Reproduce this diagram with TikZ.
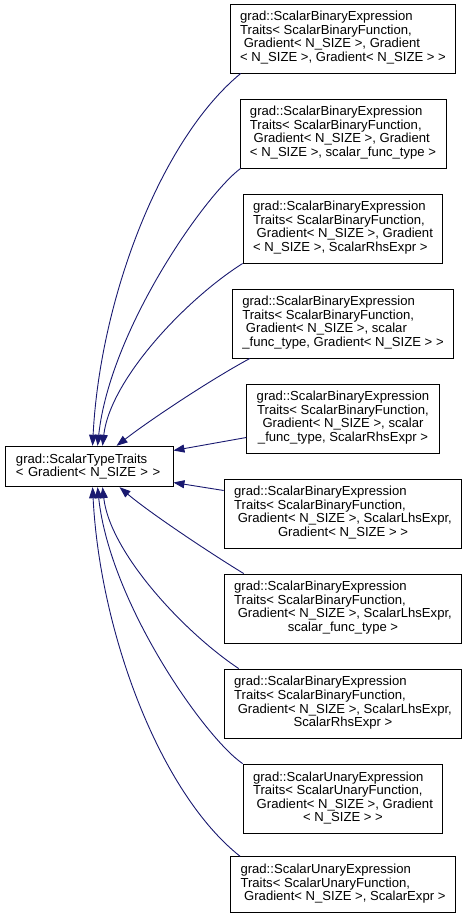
\documentclass[tikz,border=0pt]{standalone}
\usepackage{fontspec}
\setmainfont{Liberation Sans}
\usetikzlibrary{arrows.meta}
\definecolor{edgeblue}{HTML}{191970}
\begin{document}
\begin{tikzpicture}[x=1pt,y=-1pt,
  cls/.style={draw=black, line width=0.9pt, fill=white, inner xsep=10pt, inner ysep=7.5pt,
    font=\fontsize{13.1pt}{13.4pt}\selectfont, anchor=center},
  basecls/.style={cls, text width=146pt, align=left, inner xsep=11pt},
  inh/.style={draw=edgeblue, line width=0.9pt, -{Triangle[length=11pt,width=8pt]}},
]
\useasboundingbox (0,0) rectangle (469,917);

\node[basecls] (base) at (89,466.5) {grad::ScalarTypeTraits\\< Gradient< N\_SIZE > >};

\node[cls] (b1) at (343,38.5) {\begin{tabular}{@{}l@{}}grad::ScalarBinaryExpression\\Traits< ScalarBinaryFunction,\\\ Gradient< N\_SIZE >, Gradient\\< N\_SIZE >, Gradient< N\_SIZE > >\end{tabular}};
\node[cls] (b2) at (343,133.5) {\begin{tabular}{@{}l@{}}grad::ScalarBinaryExpression\\Traits< ScalarBinaryFunction,\\\ Gradient< N\_SIZE >, Gradient\\< N\_SIZE >, scalar\_func\_type >\end{tabular}};
\node[cls] (b3) at (343,228.5) {\begin{tabular}{@{}l@{}}grad::ScalarBinaryExpression\\Traits< ScalarBinaryFunction,\\\ Gradient< N\_SIZE >, Gradient\\< N\_SIZE >, ScalarRhsExpr >\end{tabular}};
\node[cls] (b4) at (343,323.5) {\begin{tabular}{@{}l@{}}grad::ScalarBinaryExpression\\Traits< ScalarBinaryFunction,\\\ Gradient< N\_SIZE >, scalar\\\_func\_type, Gradient< N\_SIZE > >\end{tabular}};
\node[cls] (b5) at (343,418.5) {\begin{tabular}{@{}c@{}}grad::ScalarBinaryExpression\\Traits< ScalarBinaryFunction,\\Gradient< N\_SIZE >, scalar\\\_func\_type, ScalarRhsExpr >\end{tabular}};
\node[cls] (b6) at (343,513.5) {\begin{tabular}{@{}l@{}}grad::ScalarBinaryExpression\\Traits< ScalarBinaryFunction,\\\ Gradient< N\_SIZE >, ScalarLhsExpr,\\\multicolumn{1}{@{}c@{}}{Gradient< N\_SIZE > >}\end{tabular}};
\node[cls] (b7) at (343,608.5) {\begin{tabular}{@{}l@{}}grad::ScalarBinaryExpression\\Traits< ScalarBinaryFunction,\\\ Gradient< N\_SIZE >, ScalarLhsExpr,\\\multicolumn{1}{@{}c@{}}{scalar\_func\_type >}\end{tabular}};
\node[cls] (b8) at (343,703.5) {\begin{tabular}{@{}l@{}}grad::ScalarBinaryExpression\\Traits< ScalarBinaryFunction,\\\ Gradient< N\_SIZE >, ScalarLhsExpr,\\\multicolumn{1}{@{}c@{}}{ScalarRhsExpr >}\end{tabular}};
\node[cls] (b9) at (343,798.5) {\begin{tabular}{@{}l@{}}grad::ScalarUnaryExpression\\Traits< ScalarUnaryFunction,\\\ Gradient< N\_SIZE >, Gradient\\\multicolumn{1}{@{}c@{}}{< N\_SIZE > >}\end{tabular}};
\node[cls] (b10) at (343,884.5) {\begin{tabular}{@{}l@{}}grad::ScalarUnaryExpression\\Traits< ScalarUnaryFunction,\\\ Gradient< N\_SIZE >, ScalarExpr >\end{tabular}};

\draw[inh] ([xshift=11pt]b1.south west) .. controls (160,140) and (100,300) .. ([xshift=88pt]base.north west);
\draw[inh] ([xshift=1pt]b2.south west) .. controls (205,195) and (110,330) .. ([xshift=93pt]base.north west);
\draw[inh] (b3.south west) .. controls (185,300) and (110,380) .. ([xshift=98pt]base.north west);
\draw[inh] ([xshift=18pt]b4.south west) .. controls (210,380) and (150,420) .. ([xshift=112pt]base.north west);
\draw[inh] ([yshift=-19pt]b5.west) -- ([yshift=16pt]base.east);
\draw[inh] ([yshift=23pt]b6.west) -- ([yshift=-16pt]base.east);
\draw[inh] ([xshift=20pt]b7.north west) .. controls (210,553) and (150,513) .. ([xshift=115pt]base.south west);
\draw[inh] ([xshift=15pt]b8.north west) .. controls (185,633) and (110,553) .. ([xshift=98pt]base.south west);
\draw[inh] (b9.north west) .. controls (205,738) and (110,603) .. ([xshift=93pt]base.south west);
\draw[inh] ([xshift=10pt]b10.north west) .. controls (160,793) and (100,633) .. ([xshift=88pt]base.south west);
\end{tikzpicture}
\end{document}
